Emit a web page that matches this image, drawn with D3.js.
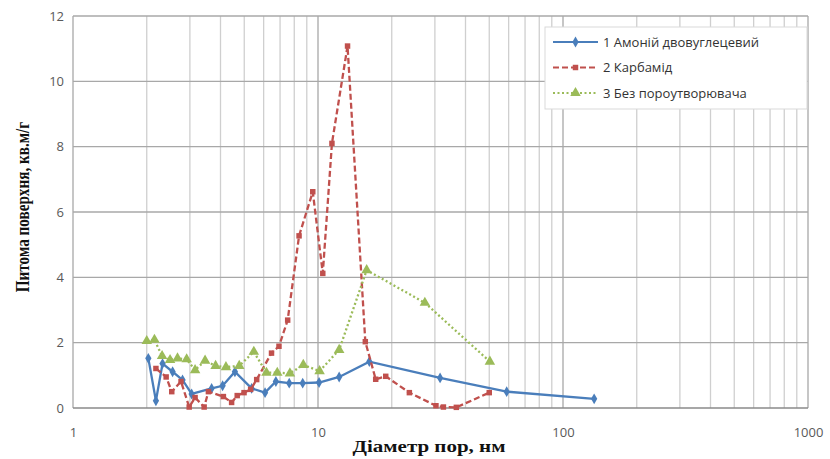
<!DOCTYPE html>
<html>
<head>
<meta charset="utf-8">
<script src="https://cdn.jsdelivr.net/npm/d3@7"></script>
<style>
  body { margin: 0; background: #fff; }
  svg { display: block; }
</style>
</head>
<body>
<div id="chart"></div>
<script>
// Data

var seriesNames = ["1 Амоній двовуглецевий", "2 Карбамід", "3 Без пороутворювача"];

var ammoniumD = [2.03, 2.18, 2.32, 2.55, 2.80, 3.05, 3.68, 4.08, 4.58, 5.36, 6.08, 6.73, 7.63, 8.66, 10.1, 12.2, 16.2, 31.5, 58.9, 134];
var ammoniumS = [1.52, 0.22, 1.36, 1.11, 0.86, 0.43, 0.60, 0.68, 1.11, 0.60, 0.47, 0.81, 0.76, 0.76, 0.78, 0.95, 1.42, 0.92, 0.50, 0.28];

var ureaD = [2.18, 2.40, 2.53, 2.76, 2.98, 3.15, 3.43, 3.57, 4.11, 4.44, 4.68, 4.99, 5.31, 5.62, 6.46, 6.93, 7.52, 8.37, 9.52, 10.46, 11.4, 13.2, 15.6, 17.2, 18.9, 23.6, 30.3, 32.5, 36.7, 50.0];
var ureaS = [1.21, 0.95, 0.50, 0.81, 0.03, 0.32, 0.03, 0.50, 0.35, 0.17, 0.38, 0.47, 0.57, 0.87, 1.68, 1.89, 2.69, 5.27, 6.62, 4.12, 8.10, 11.08, 2.03, 0.88, 0.97, 0.47, 0.07, 0.03, 0.02, 0.47];

var noneD = [2.0, 2.15, 2.31, 2.49, 2.67, 2.91, 3.15, 3.46, 3.82, 4.21, 4.77, 5.47, 6.16, 6.82, 7.68, 8.71, 10.15, 12.2, 15.8, 27.3, 50.3];
var noneS = [2.05, 2.09, 1.59, 1.47, 1.52, 1.49, 1.16, 1.45, 1.29, 1.25, 1.29, 1.72, 1.08, 1.08, 1.06, 1.32, 1.13, 1.78, 4.22, 3.22, 1.42];

var yTicks = [0, 2, 4, 6, 8, 10, 12];
var xTicks = [1, 10, 100, 1000];

var svgWidth = 830;
var svgHeight = 459;

var margin = {
    top: 16,
    bottom: 51,
    left: 73,
    right: 22
};

var width = svgWidth - margin.left - margin.right;
var height = svgHeight - margin.bottom - margin.top;

var colors = ["#4a7ebb", "#c0504d", "#9bbb59"];

var svg = d3.select("#chart")
    .append("svg")
    .attr("width", svgWidth)
    .attr("height", svgHeight);

var chartGroup = svg.append("g")
    .attr("transform", `translate(${margin.left}, ${margin.top})`);

var xScale = d3.scaleLog()
    .domain([1, 1000])
    .range([0, width]);

var yScale = d3.scaleLinear()
    .domain([0, 12])
    .range([height, 0]);

// Vertical gridlines: every 1..9 per decade
var minorTicks = [];
[1, 10, 100].forEach(function(dec) {
    for (var k = 2; k <= 9; k++) minorTicks.push(dec * k);
});

chartGroup.append("g")
    .selectAll("line")
    .data(minorTicks)
    .enter()
    .append("line")
    .attr("x1", d => xScale(d))
    .attr("x2", d => xScale(d))
    .attr("y1", 0)
    .attr("y2", height)
    .attr("stroke", "#cfcfcf")
    .attr("stroke-width", 1.3);

chartGroup.append("g")
    .selectAll("line")
    .data(xTicks)
    .enter()
    .append("line")
    .attr("x1", d => xScale(d))
    .attr("x2", d => xScale(d))
    .attr("y1", 0)
    .attr("y2", height)
    .attr("stroke", "#a8a8a8")
    .attr("stroke-width", 1.3);

// Horizontal gridlines
chartGroup.append("g")
    .selectAll("line")
    .data(yTicks)
    .enter()
    .append("line")
    .attr("x1", 0)
    .attr("x2", width)
    .attr("y1", d => yScale(d))
    .attr("y2", d => yScale(d))
    .attr("stroke", d => d === 0 ? "#8a8a8a" : "#a8a8a8")
    .attr("stroke-width", 1.3);

// Axes (labels only)
var bottomAxis = d3.axisBottom(xScale)
    .tickValues(xTicks)
    .tickFormat(d3.format("d"))
    .tickSize(0)
    .tickPadding(20);

var leftAxis = d3.axisLeft(yScale)
    .tickValues(yTicks)
    .tickSize(0)
    .tickPadding(9);

var xAxis = chartGroup.append("g")
    .attr("transform", `translate(0, ${height})`)
    .call(bottomAxis);

var yAxis = chartGroup.append("g")
    .call(leftAxis);

[xAxis, yAxis].forEach(function(ax) {
    ax.select(".domain").remove();
    ax.selectAll("text")
        .attr("font-family", "'Open Sans', sans-serif")
        .attr("font-size", "13px")
        .attr("fill", "#595959");
});

// Series
var series = [
    { name: seriesNames[0], d: ammoniumD, s: ammoniumS, dash: null, marker: "diamond" },
    { name: seriesNames[1], d: ureaD, s: ureaS, dash: "6,3", marker: "square" },
    { name: seriesNames[2], d: noneD, s: noneS, dash: "2,2.5", marker: "triangle" }
];

var line = d3.line()
    .x(p => xScale(p[0]))
    .y(p => yScale(p[1]));

var symbolTypes = {
    diamond: d3.symbolDiamond,
    square: d3.symbolSquare,
    triangle: d3.symbolTriangle
};
var symbolSizes = { diamond: 34, square: 30, triangle: 48 };

series.forEach(function(ser, i) {
    var pts = ser.d.map((d, j) => [d, ser.s[j]]);

    chartGroup.append("path")
        .datum(pts)
        .attr("d", line)
        .attr("fill", "none")
        .attr("stroke", colors[i])
        .attr("stroke-width", 2.3)
        .attr("stroke-dasharray", ser.dash);

    chartGroup.append("g")
        .selectAll("path")
        .data(pts)
        .enter()
        .append("path")
        .attr("d", d3.symbol().type(symbolTypes[ser.marker]).size(symbolSizes[ser.marker]))
        .attr("transform", p => `translate(${xScale(p[0])}, ${yScale(p[1])})`)
        .attr("fill", colors[i]);
});

// Legend
var legend = svg.append("g")
    .attr("transform", "translate(545, 27)");

legend.append("rect")
    .attr("width", 262)
    .attr("height", 82)
    .attr("fill", "#fff")
    .attr("stroke", "#d9d9d9");

series.forEach(function(ser, i) {
    var row = legend.append("g")
        .attr("transform", `translate(8, ${15 + i * 25.5})`);

    row.append("line")
        .attr("x1", 0)
        .attr("x2", 45)
        .attr("stroke", colors[i])
        .attr("stroke-width", 2)
        .attr("stroke-dasharray", ser.dash);

    row.append("path")
        .attr("d", d3.symbol().type(symbolTypes[ser.marker]).size(symbolSizes[ser.marker]))
        .attr("transform", "translate(22.5, 0)")
        .attr("fill", colors[i]);

    row.append("text")
        .attr("x", 50)
        .attr("y", 0)
        .attr("dy", "0.35em")
        .attr("font-family", "'Open Sans', sans-serif")
        .attr("font-size", "13px")
        .attr("fill", "#333")
        .text(ser.name);
});

// Axis titles (the picture is stretched a bit horizontally)
svg.append("text")
    .attr("transform", "translate(429, 452) scale(1.2, 1)")
    .attr("text-anchor", "middle")
    .attr("font-family", "'Liberation Serif', serif")
    .attr("font-weight", "bold")
    .attr("font-size", "17.5px")
    .attr("fill", "#111")
    .text("Діаметр пор, нм");

svg.append("text")
    .attr("transform", "translate(29, 207) rotate(-90) scale(1, 1.2)")
    .attr("text-anchor", "middle")
    .attr("font-family", "'Liberation Serif', serif")
    .attr("font-weight", "bold")
    .attr("font-size", "15.2px")
    .attr("fill", "#111")
    .text("Питома поверхня, кв.м/г");
</script>
</body>
</html>
